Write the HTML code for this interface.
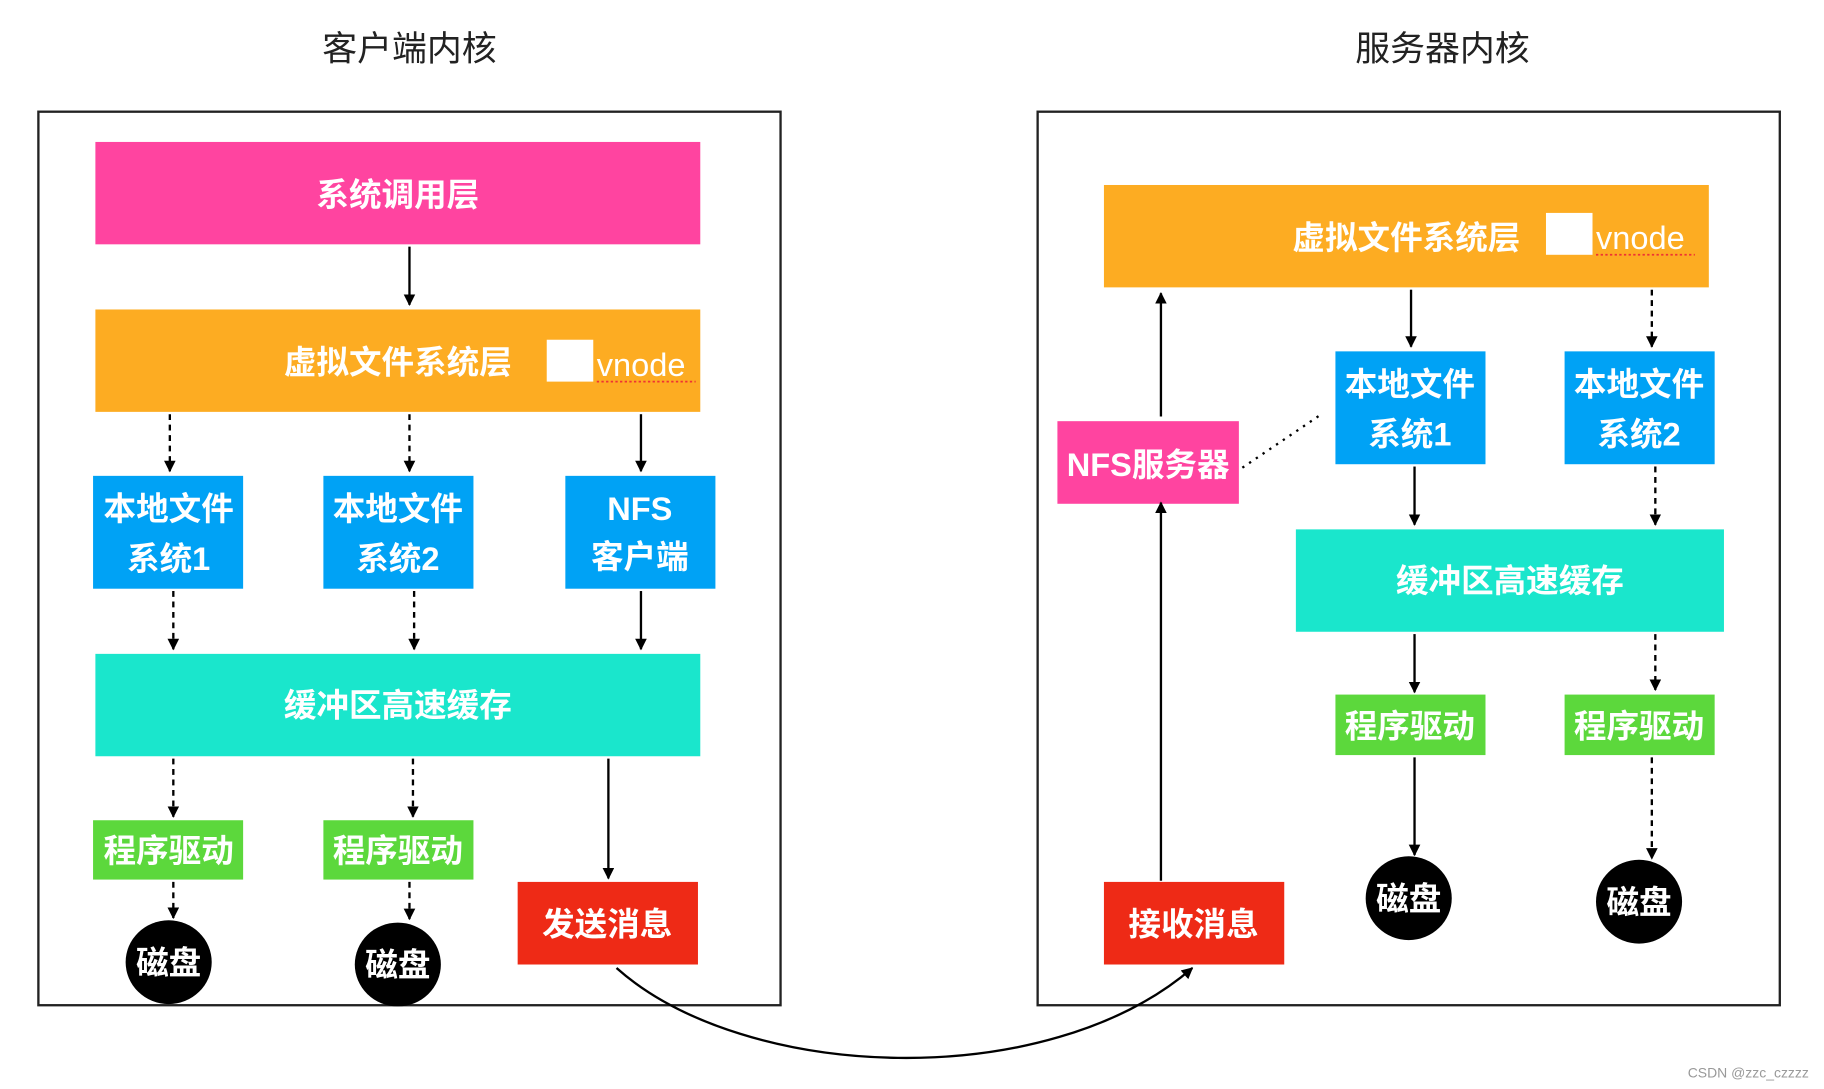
<!DOCTYPE html>
<html><head><meta charset="utf-8"><style>
html,body{margin:0;padding:0;background:#fff;}
svg{display:block;}
text{font-family:"Liberation Sans","Noto Sans CJK SC",sans-serif;}
.w{fill:#fff;font-size:28px;font-weight:bold;text-anchor:middle;}
</style></head><body>
<svg width="1824" height="1089" viewBox="0 0 1568 936" preserveAspectRatio="none" xmlns="http://www.w3.org/2000/svg">
<defs>
<marker id="a" viewBox="0 0 10 10" refX="9" refY="5" markerWidth="5" markerHeight="5" orient="auto"><path d="M0,0 L10,5 L0,10 z" fill="#000"/></marker>
</defs>
<text x="352" y="52" font-size="30" text-anchor="middle" fill="#222">客户端内核</text>
<text x="1240" y="52" font-size="30" text-anchor="middle" fill="#222">服务器内核</text>
<rect x="33" y="96" width="638" height="768" fill="none" stroke="#222" stroke-width="2"/>
<rect x="892" y="96" width="638" height="768" fill="none" stroke="#222" stroke-width="2"/>

<!-- left -->
<rect x="82" y="122" width="520" height="88" fill="#FF44A0"/>
<text class="w" x="342" y="177">系统调用层</text>
<rect x="82" y="266" width="520" height="88" fill="#FDAC22"/>
<text class="w" x="342" y="321">虚拟文件系统层</text>
<rect x="470" y="292" width="40" height="36" fill="#fff"/>
<text x="513" y="323" fill="#fff" font-size="28">vnode</text>
<line x1="513" y1="328" x2="598" y2="328" stroke="#e33" stroke-width="1.5" stroke-dasharray="2,2"/>
<rect x="80" y="409" width="129" height="97" fill="#00A2F5"/>
<text class="w" x="145" y="447">本地文件</text><text class="w" x="145" y="490">系统1</text>
<rect x="278" y="409" width="129" height="97" fill="#00A2F5"/>
<text class="w" x="342" y="447">本地文件</text><text class="w" x="342" y="490">系统2</text>
<rect x="486" y="409" width="129" height="97" fill="#00A2F5"/>
<text class="w" x="550" y="447">NFS</text><text class="w" x="550" y="488">客户端</text>
<rect x="82" y="562" width="520" height="88" fill="#1AE6CC"/>
<text class="w" x="342" y="616">缓冲区高速缓存</text>
<rect x="80" y="705" width="129" height="51" fill="#5CD83C"/>
<text class="w" x="145" y="741">程序驱动</text>
<rect x="278" y="705" width="129" height="51" fill="#5CD83C"/>
<text class="w" x="342" y="741">程序驱动</text>
<ellipse cx="145" cy="827" rx="37" ry="36" fill="#000"/>
<text class="w" x="145" y="837">磁盘</text>
<ellipse cx="342" cy="829" rx="37" ry="36" fill="#000"/>
<text class="w" x="342" y="839">磁盘</text>
<rect x="445" y="758" width="155" height="71" fill="#EE2A16"/>
<text class="w" x="522" y="804">发送消息</text>

<g stroke="#000" stroke-width="2" fill="none" marker-end="url(#a)">
<line x1="352" y1="212" x2="352" y2="262"/>
<line x1="551" y1="356" x2="551" y2="405"/>
<line x1="551" y1="508" x2="551" y2="558"/>
<line x1="523" y1="652" x2="523" y2="755"/>
<g stroke-dasharray="5,4">
<line x1="146" y1="356" x2="146" y2="405"/>
<line x1="352" y1="356" x2="352" y2="405"/>
<line x1="149" y1="508" x2="149" y2="558"/>
<line x1="356" y1="508" x2="356" y2="558"/>
<line x1="149" y1="652" x2="149" y2="702"/>
<line x1="355" y1="652" x2="355" y2="702"/>
<line x1="149" y1="758" x2="149" y2="789"/>
<line x1="352" y1="758" x2="352" y2="790"/>
</g>
</g>

<!-- right -->
<rect x="949" y="159" width="520" height="88" fill="#FDAC22"/>
<text class="w" x="1209" y="214">虚拟文件系统层</text>
<rect x="1329" y="183" width="40" height="36" fill="#fff"/>
<text x="1372" y="214" fill="#fff" font-size="28">vnode</text>
<line x1="1372" y1="219" x2="1457" y2="219" stroke="#e33" stroke-width="1.5" stroke-dasharray="2,2"/>
<rect x="1148" y="302" width="129" height="97" fill="#00A2F5"/>
<text class="w" x="1212" y="340">本地文件</text><text class="w" x="1212" y="383">系统1</text>
<rect x="1345" y="302" width="129" height="97" fill="#00A2F5"/>
<text class="w" x="1409" y="340">本地文件</text><text class="w" x="1409" y="383">系统2</text>
<rect x="909" y="362" width="156" height="71" fill="#FF44A0"/>
<text class="w" x="987" y="409" font-size="26">NFS服务器</text>
<rect x="1114" y="455" width="368" height="88" fill="#1AE6CC"/>
<text class="w" x="1298" y="509">缓冲区高速缓存</text>
<rect x="1148" y="597" width="129" height="52" fill="#5CD83C"/>
<text class="w" x="1212" y="634">程序驱动</text>
<rect x="1345" y="597" width="129" height="52" fill="#5CD83C"/>
<text class="w" x="1409" y="634">程序驱动</text>
<ellipse cx="1211" cy="772" rx="37" ry="36" fill="#000"/>
<text class="w" x="1211" y="782">磁盘</text>
<ellipse cx="1409" cy="775" rx="37" ry="36" fill="#000"/>
<text class="w" x="1409" y="785">磁盘</text>
<rect x="949" y="758" width="155" height="71" fill="#EE2A16"/>
<text class="w" x="1026" y="804">接收消息</text>

<g stroke="#000" stroke-width="2" fill="none" marker-end="url(#a)">
<line x1="1213" y1="249" x2="1213" y2="298"/>
<line x1="1216" y1="401" x2="1216" y2="451"/>
<line x1="1216" y1="545" x2="1216" y2="595"/>
<line x1="1216" y1="651" x2="1216" y2="735"/>
<line x1="998" y1="358" x2="998" y2="252"/>
<line x1="998" y1="757" x2="998" y2="432"/>
<g stroke-dasharray="5,4">
<line x1="1420" y1="249" x2="1420" y2="298"/>
<line x1="1423" y1="401" x2="1423" y2="451"/>
<line x1="1423" y1="545" x2="1423" y2="593"/>
<line x1="1420" y1="651" x2="1420" y2="738"/>
</g>
<path d="M530,832 C640,930 900,940 1025,832"/>
</g>
<line x1="1068" y1="402" x2="1136" y2="356" stroke="#000" stroke-width="2" stroke-dasharray="2,5"/>
<text x="1555" y="926" font-size="12" fill="#999" text-anchor="end">CSDN @zzc_czzzz</text>
</svg>
</body></html>
